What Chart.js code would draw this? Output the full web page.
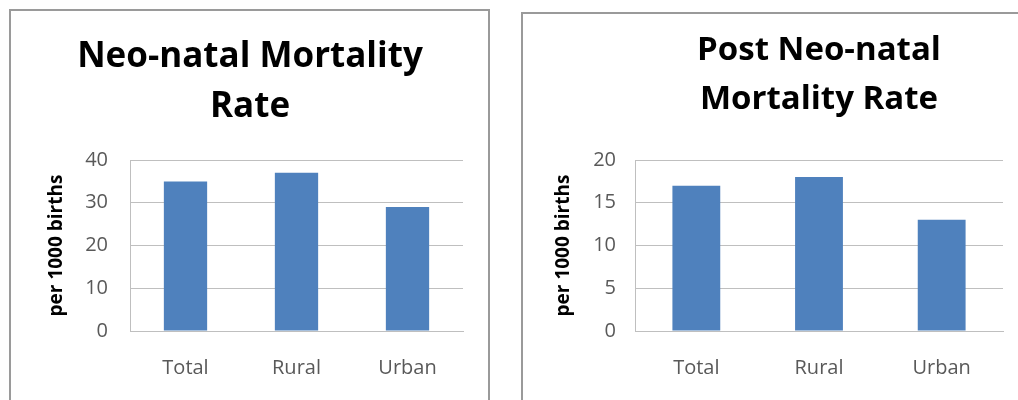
<!DOCTYPE html>
<html>
<head>
<meta charset="utf-8">
<script src="https://cdn.jsdelivr.net/npm/chart.js@4/dist/chart.umd.min.js"></script>
<style>
  html, body { margin: 0; padding: 0; background: #fff; width: 1018px; height: 400px; overflow: hidden; }
  .box { position: absolute; border: 2px solid #9a9a9a; box-sizing: border-box; background: #fff; }
  canvas { position: absolute; }
</style>
</head>
<body>
<div class="box" style="left:9px; top:9px; width:481px; height:420px;"></div>
<div class="box" style="left:521px; top:12px; width:560px; height:420px;"></div>
<canvas id="c1" width="478" height="390" style="left:10px; top:10px;"></canvas>
<canvas id="c2" width="496" height="387" style="left:522px; top:13px;"></canvas>
<script>
const categories = ['Total', 'Rural', 'Urban'];
const neoNatalValues = [35, 37, 29];
const postNeoNatalValues = [17, 18, 13];
const neoTitle = ['Neo-natal Mortality', 'Rate'];
const postTitle = ['Post Neo-natal', 'Mortality Rate'];
const yAxisLabel = 'per 1000 births';

const FONT = '"Open Sans", Lato, sans-serif';
const BAR = '#4f81bd';
const GRID = '#bfbfbf';
const TICK = '#595959';

function makeChart(id, values, title, opts) {
  return new Chart(document.getElementById(id), {
    type: 'bar',
    data: {
      labels: categories,
      datasets: [{
        data: values,
        backgroundColor: BAR,
        borderWidth: 0,
        barPercentage: 0.39,
        categoryPercentage: 1
      }]
    },
    options: {
      responsive: false,
      animation: false,
      devicePixelRatio: 1,
      layout: { padding: opts.layoutPadding },
      plugins: {
        legend: { display: false },
        tooltip: { enabled: false },
        title: {
          display: true,
          text: title,
          fullSize: opts.fullSize,
          color: '#000',
          font: { family: FONT, size: opts.titleSize, weight: 'bold', lineHeight: opts.titleLH },
          padding: opts.titlePadding
        }
      },
      scales: {
        x: {
          grid: { display: false, drawTicks: false },
          border: { display: true, color: GRID, width: 1 },
          ticks: { color: TICK, font: { family: FONT, size: 20 }, padding: 25 },
          afterFit: (s) => { s.height = 69; }
        },
        y: {
          min: 0,
          max: opts.yMax,
          grid: { color: GRID, drawTicks: false },
          border: { display: true, color: GRID, width: 1 },
          ticks: { stepSize: opts.yStep, color: TICK, font: { family: FONT, size: 20 }, padding: opts.tickPad },
          title: {
            display: true,
            text: yAxisLabel,
            color: '#000',
            font: { family: FONT, size: 19, weight: 'bold', lineHeight: 1.2 },
            padding: { top: opts.yTitleTop, bottom: 0 }
          },
          afterFit: (s) => { s.width = opts.yWidth; }
        }
      }
    }
  });
}

makeChart('c1', neoNatalValues, neoTitle, {
  layoutPadding: { left: 27, right: 25, top: 0, bottom: 0 },
  fullSize: true,
  titleSize: 35,
  titleLH: '50px',
  titlePadding: { top: 22, bottom: 28 },
  yMax: 40, yStep: 10,
  tickPad: 22,
  yTitleTop: 8,
  yWidth: 93
});

makeChart('c2', postNeoNatalValues, postTitle, {
  layoutPadding: { left: 0, right: 15, top: 0, bottom: 0 },
  fullSize: false,
  titleSize: 33,
  titleLH: '49px',
  titlePadding: { top: 13.5, bottom: 35.5 },
  yMax: 20, yStep: 5,
  tickPad: 19,
  yTitleTop: 30,
  yWidth: 113
});
</script>
</body>
</html>
